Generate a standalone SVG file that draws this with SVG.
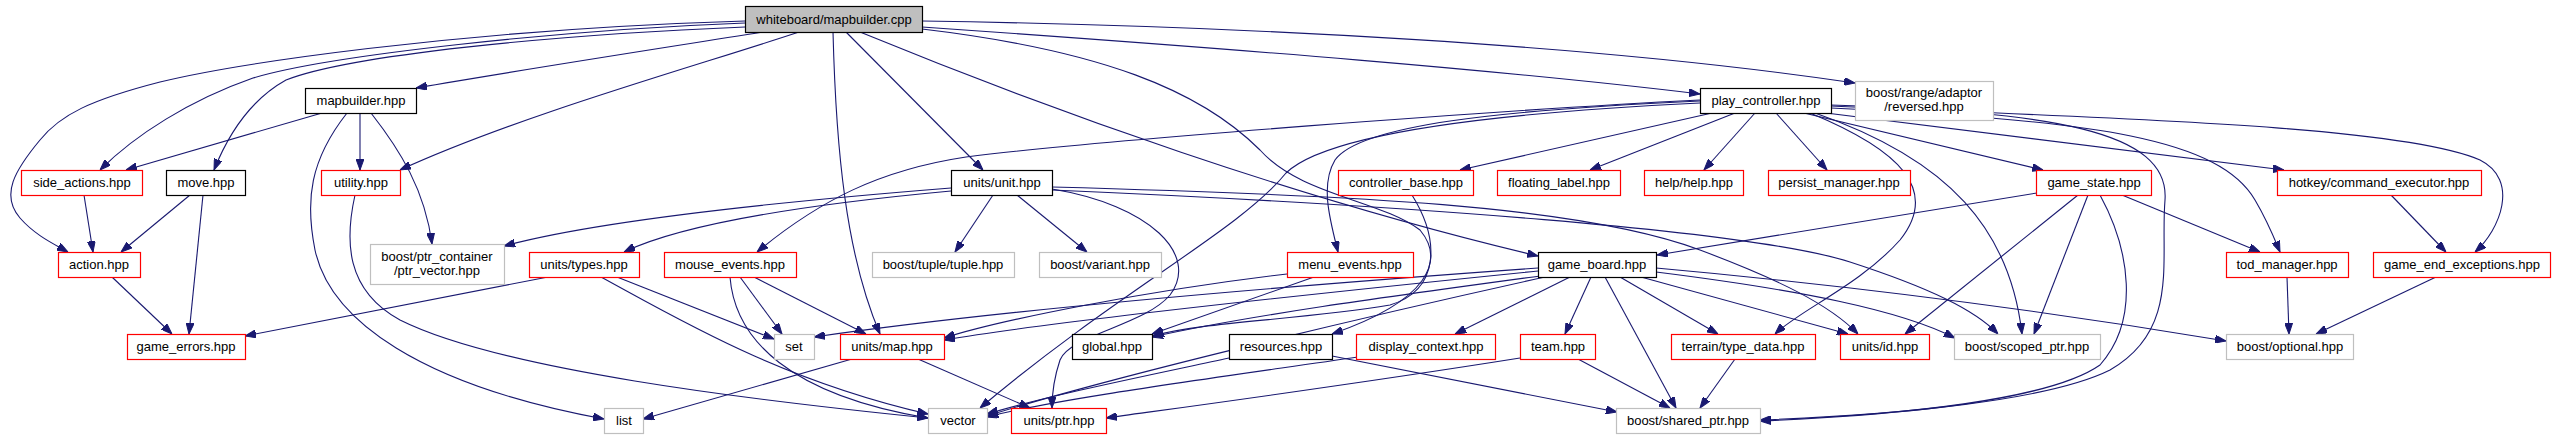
<svg xmlns="http://www.w3.org/2000/svg" width="2556" height="440" viewBox="0 0 2556 440">
<style>
.n rect{fill:#fff;stroke-width:1.2}
.r rect{stroke:#ff0000}
.k rect{stroke:#000}
.g rect{stroke:#bfbfbf}
.root rect{fill:#bfbfbf;stroke:#000}
text{font-family:"Liberation Sans",Arial,sans-serif;font-size:13px;fill:#000;text-anchor:middle}
#edges path{fill:none;stroke:#191970;stroke-width:1.1;marker-end:url(#a)}
</style>
<defs>
<marker id="a" markerWidth="11" markerHeight="8" refX="11" refY="4" orient="auto" markerUnits="userSpaceOnUse">
<path d="M0,0 L11,4 L0,8 z" fill="#191970" stroke="#191970" stroke-width="1"/>
</marker>
</defs>
<rect width="2556" height="440" fill="#fff"/>
<g id="edges">
<path d="M763,32 C650,50 520,70 416,88"/>
<path d="M745,23 C560,30 330,55 253,78 C190,100 135,135 100,170"/>
<path d="M745,21 C450,30 230,65 160,82 C90,100 60,115 40,140 C15,170 0,195 20,218 C35,235 52,243 68,252"/>
<path d="M745,27 C550,35 350,55 286,80 C250,100 228,135 214,170"/>
<path d="M799,32 C700,65 520,115 400,170"/>
<path d="M833,32 C836,150 846,255 880,334"/>
<path d="M846,32 L983,170"/>
<path d="M860,32 C1050,110 1300,200 1538,256"/>
<path d="M922,21 C1250,26 1600,45 1855,83"/>
<path d="M922,27 C1250,50 1500,70 1700,94"/>
<path d="M922,29 C1100,50 1200,90 1260,150 C1300,195 1380,200 1420,230 C1445,260 1430,300 1332,334"/>
<path d="M322,113 L126,170"/>
<path d="M360,113 L360,170"/>
<path d="M347,113 C310,160 305,200 315,250 C330,320 420,385 604,419"/>
<path d="M371,113 C400,150 425,190 432,244"/>
<path d="M84,195 L93,252"/>
<path d="M190,195 L121,252"/>
<path d="M203,195 L189,334"/>
<path d="M355,195 C345,240 345,290 400,320 C500,370 750,400 928,418"/>
<path d="M112,277 L172,334"/>
<path d="M548,277 L245,336"/>
<path d="M617,277 L774,339"/>
<path d="M601,277 C680,320 780,380 928,414"/>
<path d="M740,277 L782,334"/>
<path d="M754,277 L866,334"/>
<path d="M730,277 C735,340 790,395 928,418"/>
<path d="M951,188 C800,200 600,220 504,246"/>
<path d="M951,191 C800,205 680,225 624,252"/>
<path d="M993,195 L955,252"/>
<path d="M1017,195 L1087,252"/>
<path d="M1052,189 C1150,205 1200,255 1170,295 C1145,325 1070,335 1060,360 C1054,378 1052,395 1052,408"/>
<path d="M1052,187 C1350,195 1580,205 1700,250 C1780,280 1830,305 1858,334"/>
<path d="M1052,190 C1400,205 1750,230 1850,262 C1930,288 1975,310 1998,334"/>
<path d="M1712,113 L1460,170"/>
<path d="M1735,113 L1590,170"/>
<path d="M1755,113 L1704,170"/>
<path d="M1776,113 L1827,170"/>
<path d="M1804,113 L2043,170"/>
<path d="M1826,113 L2284,170"/>
<path d="M1831,108 C2100,120 2220,140 2255,200 C2268,222 2275,240 2280,252"/>
<path d="M1831,106 C2100,118 2400,125 2480,160 C2520,180 2500,230 2475,252"/>
<path d="M1831,105 C2050,112 2170,130 2165,200 C2160,260 2180,330 2110,370 C2050,400 1900,415 1760,420"/>
<path d="M1810,113 C1900,150 1940,190 1900,240 C1860,285 1800,310 1775,334"/>
<path d="M1815,113 C1950,160 2010,230 2022,334"/>
<path d="M1700,100 C1500,110 1100,140 966,157 C880,170 820,200 757,252"/>
<path d="M1700,101 C1500,110 1360,125 1335,160 C1320,185 1330,220 1338,252"/>
<path d="M1700,103 C1450,115 1320,140 1286,173 C1240,230 1120,290 980,408"/>
<path d="M2037,193 L1657,255"/>
<path d="M2078,195 L1905,334"/>
<path d="M2088,195 L2034,334"/>
<path d="M2100,195 C2130,250 2140,320 2100,365 C2050,400 1900,415 1760,421"/>
<path d="M2122,195 L2260,252"/>
<path d="M2391,195 L2446,252"/>
<path d="M2287,277 L2289,334"/>
<path d="M2436,277 L2316,334"/>
<path d="M1412,195 C1440,240 1440,290 1390,305 C1300,320 1200,322 1153,336"/>
<path d="M1314,277 L1152,334"/>
<path d="M1287,274 C1150,290 1000,320 944,338"/>
<path d="M1538,268 C1300,285 1000,310 814,337"/>
<path d="M1538,271 C1300,295 1050,322 944,340"/>
<path d="M1540,276 C1400,295 1250,315 1152,337"/>
<path d="M1545,277 C1350,320 1100,380 987,416"/>
<path d="M1570,277 L1455,334"/>
<path d="M1591,277 L1565,334"/>
<path d="M1605,277 L1676,408"/>
<path d="M1620,277 L1718,334"/>
<path d="M1641,277 L1848,334"/>
<path d="M1656,272 C1800,290 1900,310 1955,338"/>
<path d="M1656,268 C1900,290 2100,320 2226,341"/>
<path d="M1358,357 C1200,380 1050,400 987,417"/>
<path d="M1520,358 C1350,385 1200,405 1106,418"/>
<path d="M1578,359 L1670,408"/>
<path d="M1735,359 L1700,408"/>
<path d="M1332,356 L1617,412"/>
<path d="M1229,358 C1150,375 1050,395 987,414"/>
<path d="M852,359 L643,419"/>
<path d="M918,359 L1030,408"/>
</g>
<g id="n_cpp" class="n root"><rect x="745.5" y="6.5" width="177" height="26"/><text x="834" y="24">whiteboard/mapbuilder.cpp</text></g>
<g id="n_mapbuilder" class="n k"><rect x="305.5" y="88.5" width="111" height="25"/><text x="361" y="105">mapbuilder.hpp</text></g>
<g id="n_play_controller" class="n k"><rect x="1700.5" y="88.5" width="131" height="25"/><text x="1766" y="105">play_controller.hpp</text></g>
<g id="n_reversed" class="n g"><rect x="1855.5" y="81.5" width="138" height="39"/><text x="1924" y="97">boost/range/adaptor</text><text x="1924" y="111">/reversed.hpp</text></g>
<g id="n_side_actions" class="n r"><rect x="21.5" y="170.5" width="121" height="25"/><text x="82" y="187">side_actions.hpp</text></g>
<g id="n_move" class="n k"><rect x="166.5" y="170.5" width="79" height="25"/><text x="206" y="187">move.hpp</text></g>
<g id="n_utility" class="n r"><rect x="321.5" y="170.5" width="79" height="25"/><text x="361" y="187">utility.hpp</text></g>
<g id="n_unit" class="n k"><rect x="951.5" y="170.5" width="101" height="25"/><text x="1002" y="187">units/unit.hpp</text></g>
<g id="n_controller_base" class="n r"><rect x="1338.5" y="170.5" width="135" height="25"/><text x="1406" y="187">controller_base.hpp</text></g>
<g id="n_floating_label" class="n r"><rect x="1497.5" y="170.5" width="123" height="25"/><text x="1559" y="187">floating_label.hpp</text></g>
<g id="n_help" class="n r"><rect x="1644.5" y="170.5" width="99" height="25"/><text x="1694" y="187">help/help.hpp</text></g>
<g id="n_persist" class="n r"><rect x="1768.5" y="170.5" width="142" height="25"/><text x="1839" y="187">persist_manager.hpp</text></g>
<g id="n_game_state" class="n r"><rect x="2036.5" y="170.5" width="115" height="25"/><text x="2094" y="187">game_state.hpp</text></g>
<g id="n_hotkey" class="n r"><rect x="2277.5" y="170.5" width="204" height="25"/><text x="2379" y="187">hotkey/command_executor.hpp</text></g>
<g id="n_action" class="n r"><rect x="58.5" y="252.5" width="82" height="25"/><text x="99" y="269">action.hpp</text></g>
<g id="n_ptr_vector" class="n g"><rect x="370.5" y="244.5" width="134" height="40"/><text x="437" y="261">boost/ptr_container</text><text x="437" y="275">/ptr_vector.hpp</text></g>
<g id="n_types" class="n r"><rect x="529.5" y="252.5" width="110" height="25"/><text x="584" y="269">units/types.hpp</text></g>
<g id="n_mouse_events" class="n r"><rect x="664.5" y="252.5" width="132" height="25"/><text x="730" y="269">mouse_events.hpp</text></g>
<g id="n_tuple" class="n g"><rect x="872.5" y="252.5" width="142" height="25"/><text x="943" y="269">boost/tuple/tuple.hpp</text></g>
<g id="n_variant" class="n g"><rect x="1039.5" y="252.5" width="122" height="25"/><text x="1100" y="269">boost/variant.hpp</text></g>
<g id="n_menu_events" class="n r"><rect x="1287.5" y="252.5" width="126" height="25"/><text x="1350" y="269">menu_events.hpp</text></g>
<g id="n_game_board" class="n k"><rect x="1538.5" y="252.5" width="118" height="25"/><text x="1597" y="269">game_board.hpp</text></g>
<g id="n_tod_manager" class="n r"><rect x="2226.5" y="252.5" width="122" height="25"/><text x="2287" y="269">tod_manager.hpp</text></g>
<g id="n_game_end" class="n r"><rect x="2373.5" y="252.5" width="177" height="25"/><text x="2462" y="269">game_end_exceptions.hpp</text></g>
<g id="n_game_errors" class="n r"><rect x="127.5" y="334.5" width="118" height="25"/><text x="186" y="351">game_errors.hpp</text></g>
<g id="n_set" class="n g"><rect x="774.5" y="334.5" width="40" height="25"/><text x="794" y="351">set</text></g>
<g id="n_map" class="n r"><rect x="840.5" y="334.5" width="104" height="25"/><text x="892" y="351">units/map.hpp</text></g>
<g id="n_global" class="n k"><rect x="1072.5" y="334.5" width="80" height="25"/><text x="1112" y="351">global.hpp</text></g>
<g id="n_resources" class="n k"><rect x="1229.5" y="334.5" width="103" height="25"/><text x="1281" y="351">resources.hpp</text></g>
<g id="n_display_context" class="n r"><rect x="1356.5" y="334.5" width="139" height="25"/><text x="1426" y="351">display_context.hpp</text></g>
<g id="n_team" class="n r"><rect x="1520.5" y="334.5" width="75" height="25"/><text x="1558" y="351">team.hpp</text></g>
<g id="n_type_data" class="n r"><rect x="1671.5" y="334.5" width="144" height="25"/><text x="1743" y="351">terrain/type_data.hpp</text></g>
<g id="n_id" class="n r"><rect x="1840.5" y="334.5" width="89" height="25"/><text x="1885" y="351">units/id.hpp</text></g>
<g id="n_scoped_ptr" class="n g"><rect x="1954.5" y="334.5" width="146" height="25"/><text x="2027" y="351">boost/scoped_ptr.hpp</text></g>
<g id="n_optional" class="n g"><rect x="2226.5" y="334.5" width="127" height="25"/><text x="2290" y="351">boost/optional.hpp</text></g>
<g id="n_list" class="n g"><rect x="604.5" y="408.5" width="39" height="25"/><text x="624" y="425">list</text></g>
<g id="n_vector" class="n g"><rect x="928.5" y="408.5" width="59" height="25"/><text x="958" y="425">vector</text></g>
<g id="n_ptr" class="n r"><rect x="1011.5" y="408.5" width="95" height="25"/><text x="1059" y="425">units/ptr.hpp</text></g>
<g id="n_shared_ptr" class="n g"><rect x="1616.5" y="408.5" width="144" height="25"/><text x="1688" y="425">boost/shared_ptr.hpp</text></g>
</svg>
